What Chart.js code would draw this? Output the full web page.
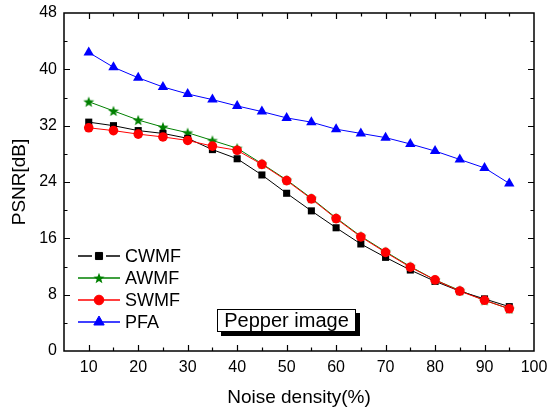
<!DOCTYPE html>
<html>
<head>
<meta charset="utf-8">
<script src="https://cdn.jsdelivr.net/npm/chart.js@4.4.0/dist/chart.umd.min.js"></script>
<style>
  html, body { margin: 0; padding: 0; background: #fff; }
</style>
</head>
<body>
<canvas id="psnrChart" width="550" height="411"></canvas>
<script>
// noise density (%) on x, PSNR [dB] on y
const noiseDensity = [10, 15, 20, 25, 30, 35, 40, 45, 50, 55, 60, 65, 70, 75, 80, 85, 90, 95];
const cwmf = [32.5, 32.0, 31.3, 30.9, 30.2, 28.6, 27.3, 25.0, 22.4, 19.9, 17.5, 15.2, 13.3, 11.5, 9.9, 8.5, 7.4, 6.3];
const awmf = [35.4, 34.1, 32.8, 31.8, 31.0, 29.9, 28.8, 26.6, 24.3, 21.7, 18.9, 16.3, 14.1, 12.0, 10.1, 8.6, 7.2, 6.0];
const swmf = [31.7, 31.3, 30.8, 30.4, 29.9, 29.1, 28.5, 26.5, 24.2, 21.6, 18.8, 16.2, 14.0, 11.9, 10.1, 8.5, 7.2, 6.0];
const pfa = [42.4, 40.3, 38.8, 37.5, 36.5, 35.7, 34.8, 34.0, 33.1, 32.5, 31.5, 30.9, 30.3, 29.4, 28.4, 27.2, 26.0, 23.8];

const xTicks = [10, 20, 30, 40, 50, 60, 70, 80, 90, 100];
const xMinorTicks = [15, 25, 35, 45, 55, 65, 75, 85, 95];
const yTicks = [0, 8, 16, 24, 32, 40, 48];
const yMinorTicks = [4, 12, 20, 28, 36, 44];

const FONT = '"Liberation Sans", Arial, sans-serif';

// filled 5 point star, Chart.js 'star' is only strokes
function makeStar(color, outer, inner) {
  const size = Math.ceil(outer * 2) + 2;
  const c = document.createElement('canvas');
  c.width = size; c.height = size;
  const g = c.getContext('2d');
  g.fillStyle = color;
  g.beginPath();
  for (let i = 0; i < 10; i++) {
    const r = i % 2 === 0 ? outer : inner;
    const a = -Math.PI / 2 + i * Math.PI / 5;
    const px = size / 2 + r * Math.cos(a);
    const py = size / 2 + r * Math.sin(a) + 0.5;
    if (i === 0) g.moveTo(px, py); else g.lineTo(px, py);
  }
  g.closePath();
  g.fill();
  return c;
}
const starImg = makeStar('#008000', 5.8, 2.4);

const toXY = (ys) => ys.map((v, i) => ({ x: noiseDensity[i], y: v }));

// frame with inward ticks, legend and the text box
const framePlugin = {
  id: 'frame',
  beforeDatasetsDraw(chart) {
    const { ctx, chartArea: a, scales: { x, y } } = chart;
    ctx.save();
    ctx.strokeStyle = '#000';
    ctx.lineWidth = 1.5;
    ctx.strokeRect(a.left, a.top, a.right - a.left, a.bottom - a.top);
    ctx.lineWidth = 1.2;
    ctx.beginPath();
    const tick = (vals, len) => {
      vals.forEach(v => {
        const px = Math.round(x.getPixelForValue(v)) + 0.5;
        ctx.moveTo(px, a.bottom); ctx.lineTo(px, a.bottom - len);
        ctx.moveTo(px, a.top); ctx.lineTo(px, a.top + len);
      });
    };
    const ytick = (vals, len) => {
      vals.forEach(v => {
        const py = Math.round(y.getPixelForValue(v)) + 0.5;
        ctx.moveTo(a.left, py); ctx.lineTo(a.left + len, py);
        ctx.moveTo(a.right, py); ctx.lineTo(a.right - len, py);
      });
    };
    tick(xTicks.filter(v => v < 100), 6);
    tick(xMinorTicks, 3.5);
    ytick(yTicks.filter(v => v > 0 && v < 48), 6);
    ytick(yMinorTicks, 3.5);
    ctx.stroke();
    ctx.restore();
  },
  afterDraw(chart) {
    const { ctx, chartArea: a } = chart;
    ctx.save();
    // legend
    const lx = a.left + 14, ly = a.top + 243;
    chart.data.datasets.forEach((ds, i) => {
      const cy = ly + i * 22;
      const mx = lx + 21;
      ctx.strokeStyle = ds.borderColor;
      ctx.lineWidth = 1.5;
      ctx.beginPath();
      if (ds.label === 'CWMF') {
        ctx.moveTo(lx, cy); ctx.lineTo(mx - 7, cy);
        ctx.moveTo(mx + 7, cy); ctx.lineTo(lx + 42, cy);
      } else {
        ctx.moveTo(lx, cy); ctx.lineTo(lx + 42, cy);
      }
      ctx.stroke();
      ctx.fillStyle = ds.pointBackgroundColor;
      ctx.strokeStyle = ds.pointBorderColor;
      ctx.lineWidth = 1;
      Chart.helpers.drawPoint(ctx, { pointStyle: ds.pointStyle, radius: ds.pointRadius, borderWidth: 1 }, mx, cy);
      ctx.fillStyle = '#000';
      ctx.font = '18px ' + FONT;
      ctx.textBaseline = 'middle';
      ctx.textAlign = 'left';
      ctx.fillText(ds.label, lx + 47, cy + 1);
    });
    // text box
    const bx = 217, by = 309, bw = 139, bh = 23;
    ctx.fillStyle = '#000';
    ctx.fillRect(bx + 4, by + 4, bw, bh);
    ctx.fillStyle = '#fff';
    ctx.fillRect(bx, by, bw, bh);
    ctx.strokeStyle = '#000';
    ctx.lineWidth = 1;
    ctx.strokeRect(bx + 0.5, by + 0.5, bw - 1, bh - 1);
    ctx.fillStyle = '#000';
    ctx.font = '20px ' + FONT;
    ctx.textAlign = 'center';
    ctx.textBaseline = 'middle';
    ctx.fillText('Pepper image', bx + bw / 2, by + bh / 2 + 1);
    ctx.restore();
  }
};

new Chart(document.getElementById('psnrChart'), {
  type: 'line',
  data: {
    datasets: [
      {
        label: 'CWMF', data: toXY(cwmf), order: 2,
        borderColor: '#000', borderWidth: 1,
        pointStyle: 'rect', pointRadius: 5,
        pointBackgroundColor: '#000', pointBorderColor: '#000', pointBorderWidth: 0
      },
      {
        label: 'AWMF', data: toXY(awmf), order: 3,
        borderColor: '#008000', borderWidth: 1,
        pointStyle: starImg, pointRadius: 6,
        pointBackgroundColor: '#008000', pointBorderColor: '#008000', pointBorderWidth: 0
      },
      {
        label: 'SWMF', data: toXY(swmf), order: 1,
        borderColor: '#ff0000', borderWidth: 1,
        pointStyle: 'circle', pointRadius: 4.8,
        pointBackgroundColor: '#ff0000', pointBorderColor: '#ff0000', pointBorderWidth: 0
      },
      {
        label: 'PFA', data: toXY(pfa), order: 4,
        borderColor: '#0000ff', borderWidth: 1,
        pointStyle: 'triangle', pointRadius: 6,
        pointBackgroundColor: '#0000ff', pointBorderColor: '#0000ff', pointBorderWidth: 0
      }
    ]
  },
  options: {
    responsive: false,
    animation: false,
    events: [],
    layout: { padding: { top: 13, right: 16, left: 0, bottom: 0 } },
    plugins: { legend: { display: false }, tooltip: { enabled: false } },
    elements: { line: { tension: 0 } },
    scales: {
      x: {
        type: 'linear', min: 5, max: 100,
        afterBuildTicks: (s) => { s.ticks = xTicks.map(v => ({ value: v })); },
        afterFit: (s) => { s.height = 60; s.paddingLeft = 0; s.paddingRight = 0; },
        grid: { display: false, drawTicks: false },
        border: { display: false },
        ticks: { color: '#000', font: { family: FONT, size: 16 }, padding: 7, maxRotation: 0 },
        title: {
          display: true, text: 'Noise density(%)', color: '#000',
          font: { family: FONT, size: 19 }, padding: { top: 0, bottom: 2 }
        }
      },
      y: {
        type: 'linear', min: 0, max: 48,
        afterBuildTicks: (s) => { s.ticks = yTicks.map(v => ({ value: v })); },
        afterFit: (s) => { s.width = 64; s.paddingTop = 0; s.paddingBottom = 0; },
        grid: { display: false, drawTicks: false },
        border: { display: false },
        ticks: { color: '#000', font: { family: FONT, size: 16 }, padding: 7 },
        title: {
          display: true, text: 'PSNR[dB]', color: '#000',
          font: { family: FONT, size: 19 }, padding: { top: 8, bottom: 0 }
        }
      }
    }
  },
  plugins: [framePlugin]
});
</script>
</body>
</html>
